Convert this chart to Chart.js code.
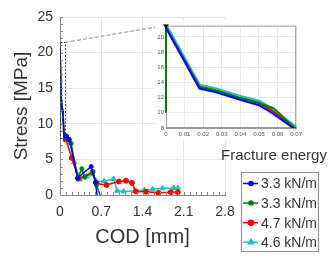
<!DOCTYPE html>
<html>
<head>
<meta charset="utf-8">
<script src="https://cdn.jsdelivr.net/npm/chart.js@4.4.1/dist/chart.umd.min.js"></script>
<style>
  html, body { margin: 0; padding: 0; background: #fff; }
  #wrap { position: relative; width: 332px; height: 257px; overflow: hidden; }
  #mainChart { position: absolute; left: 0; top: 0; }
  #insetChart { position: absolute; left: 155px; top: 20px; background: #fff; }
</style>
</head>
<body>
<div id="wrap">
  <canvas id="mainChart" width="332" height="257"></canvas>
  <canvas id="insetChart" width="150" height="120"></canvas>
</div>
<script>
// series data: COD [mm] vs stress [MPa]
const seriesLabels = ["3.3 kN/m", "3.3 kN/m", "4.7 kN/m", "4.6 kN/m"];

const blueX = [0, 0.018, 0.027, 0.039, 0.05, 0.057, 0.069, 0.11, 0.16, 0.3, 0.53, 0.6, 0.63];
const blueY = [21.2, 13.2, 12.7, 11.8, 11.0, 10.0, 7.9, 8.3, 7.8, 2.4, 4.0, 1.8, 0];

const greenX = [0, 0, 0.018, 0.027, 0.039, 0.05, 0.058, 0.069, 0.19, 0.3, 0.37, 0.42, 0.56, 0.62, 0.68];
const greenY = [10.0, 21.2, 13.4, 12.9, 12.0, 11.3, 10.6, 8.0, 7.25, 2.3, 3.7, 2.5, 3.3, 1.4, 0];

const redX = [0, 0.018, 0.027, 0.039, 0.05, 0.057, 0.069, 0.1, 0.2, 0.31, 0.55, 0.62, 0.79, 1.0, 1.12, 1.22, 1.29, 1.46, 1.67, 1.88, 2.0, 2.01];
const redY = [21.3, 13.4, 12.9, 12.0, 11.3, 10.3, 8.0, 7.8, 5.2, 2.3, 3.2, 1.6, 1.4, 1.9, 2.0, 1.7, 0.5, 0.45, 0.3, 0.4, 0.4, 0];

const cyanX = [0, 0.018, 0.027, 0.039, 0.05, 0.057, 0.069, 0.1, 0.17, 0.24, 0.34, 0.45, 0.55, 0.62, 0.75, 0.91, 0.97, 1.08, 1.26, 1.43, 1.57, 1.74, 1.93, 2.0, 2.01];
const cyanY = [21.5, 13.6, 13.1, 12.2, 11.5, 10.5, 8.2, 7.7, 7.35, 4.6, 2.2, 2.6, 2.9, 1.9, 1.95, 2.25, 0.6, 0.5, 0.56, 0.7, 0.8, 0.94, 1.0, 1.0, 0];

const mainXTicks = [0, 0.7, 1.4, 2.1, 2.8];
const mainYTicks = [0, 5, 10, 15, 20, 25];
const insetXTicks = [0, 0.01, 0.02, 0.03, 0.04, 0.05, 0.06, 0.07];
const insetYTicks = [8, 10, 12, 14, 16, 18, 20];
const zoomX = [0, 0.07];
const zoomY = [8, 21.5];

const FONT = '"Liberation Sans", Arial, sans-serif';
const TEXT = "#333";
Chart.defaults.font.family = FONT;

function pts(xs, ys) {
  return xs.map((x, i) => ({ x: x, y: ys[i] }));
}

const colors = ["#0000ff", "#008000", "#ff0000", "#1fbfbf"];
const shapes = ["circle", "circle", "circle", "triangle"];
const radii = [2, 2, 2.5, 3];
const seriesData = [pts(blueX, blueY), pts(greenX, greenY), pts(redX, redY), pts(cyanX, cyanY)];

function makeDatasets(inset) {
  return seriesData.map((d, i) => ({
    label: seriesLabels[i],
    data: d,
    showLine: true,
    borderColor: colors[i],
    backgroundColor: colors[i],
    borderWidth: inset ? (i == 3 ? 3.5 : 2) : 1.5,
    pointStyle: shapes[i],
    pointRadius: inset ? 0 : function (c) {
      const p = c.raw;
      return p && p.x >= 0.075 && p.y > 0.05 ? radii[i] : 0;
    },
    pointBorderWidth: 1,
    clip: inset ? { left: 3, top: 3, right: 0, bottom: 0 } : undefined,
  }));
}

function fixTicks(list) {
  return function (s) {
    s.ticks = list.map(v => ({ value: v }));
  };
}

// ---- inset ----
const insetFrame = {
  id: "insetFrame",
  beforeDatasetsDraw(chart) {
    const a = chart.chartArea;
    const ctx = chart.ctx;
    ctx.save();
    ctx.strokeStyle = "#9a9a9a";
    ctx.lineWidth = 1;
    ctx.strokeRect(a.left + 0.5, a.top + 0.5, a.right - a.left - 1, a.bottom - a.top - 1);
    ctx.restore();
  },
  afterDraw(chart) {
    const a = chart.chartArea;
    const ctx = chart.ctx;
    ctx.save();
    ctx.fillStyle = "#000";
    ctx.beginPath();
    ctx.moveTo(a.left - 3, a.top - 1);
    ctx.lineTo(a.left + 3, a.top - 1);
    ctx.lineTo(a.left, a.top + 3);
    ctx.closePath();
    ctx.fill();
    ctx.restore();
  },
};

const insetChart = new Chart(document.getElementById("insetChart"), {
  type: "scatter",
  data: { datasets: makeDatasets(true) },
  options: {
    responsive: false,
    animation: false,
    layout: { padding: { left: 0, top: 5, right: 7, bottom: 0 } },
    plugins: { legend: { display: false }, tooltip: { enabled: false } },
    scales: {
      x: {
        type: "linear", min: 0, max: 0.07,
        afterBuildTicks: fixTicks(insetXTicks),
        afterFit: s => { s.height = 12; },
        grid: { color: "#e8e8e8", drawTicks: false },
        border: { color: "#9a9a9a" },
        ticks: { font: { size: 6 }, color: "#555", padding: 3, maxRotation: 0,
          callback: v => (v == 0 ? "0" : v.toFixed(2)) },
      },
      y: {
        type: "linear", min: 8, max: 21.5,
        afterBuildTicks: fixTicks(insetYTicks),
        afterFit: s => { s.width = 11; },
        grid: { color: "#e8e8e8", drawTicks: false },
        border: { color: "#9a9a9a" },
        ticks: { font: { size: 6 }, color: "#555", padding: 2 },
      },
    },
  },
  plugins: [insetFrame],
});

// ---- main ----
const mainExtras = {
  id: "mainExtras",
  afterDraw(chart) {
    const ctx = chart.ctx;
    const xs = chart.scales.x, ys = chart.scales.y;
    const a = chart.chartArea;
    ctx.save();

    // minor ticks
    ctx.strokeStyle = "#8a8a8a";
    ctx.lineWidth = 1;
    ctx.beginPath();
    for (let i = 1; i <= 28; i++) {
      const px = Math.round(xs.getPixelForValue(i / 10)) + 0.5;
      ctx.moveTo(px, a.bottom);
      ctx.lineTo(px, a.bottom - 3);
    }
    for (let i = 1; i <= 25; i++) {
      const py = Math.round(ys.getPixelForValue(i)) + 0.5;
      ctx.moveTo(a.left, py);
      ctx.lineTo(a.left + 3, py);
    }
    ctx.stroke();

    // zoom box
    const bx0 = xs.getPixelForValue(zoomX[0]), bx1 = xs.getPixelForValue(zoomX[1]);
    const by0 = ys.getPixelForValue(zoomY[1]), by1 = ys.getPixelForValue(zoomY[0]);
    ctx.setLineDash([2, 1.5]);
    ctx.strokeStyle = "#444";
    ctx.strokeRect(Math.round(bx0) + 0.5, Math.round(by0) + 0.5, Math.round(bx1 - bx0) + 1, Math.round(by1 - by0));

    // connector to inset
    const ia = insetChart.chartArea;
    const cv = document.getElementById("insetChart");
    ctx.setLineDash([4, 2]);
    ctx.strokeStyle = "#8a8a8a";
    ctx.beginPath();
    ctx.moveTo(bx1 + 1, by0 + 0.5);
    ctx.lineTo(cv.offsetLeft + ia.left - 2, cv.offsetTop + ia.top);
    ctx.stroke();
    ctx.setLineDash([]);

    // legend
    const lx = 241, ly = 172, lw = 77, lh = 79;
    ctx.fillStyle = TEXT;
    ctx.font = "15px " + FONT;
    ctx.textAlign = "center";
    ctx.textBaseline = "middle";
    ctx.fillText("Fracture energy", 274, 156);

    ctx.fillStyle = "#fff";
    ctx.fillRect(lx, ly, lw, lh);
    ctx.strokeStyle = "#8c8c8c";
    ctx.strokeRect(lx + 0.5, ly + 0.5, lw, lh);
    ctx.font = "14px " + FONT;
    ctx.textAlign = "left";
    chart.data.datasets.forEach((ds, i) => {
      const y = ly + 11.5 + i * 19.6;
      ctx.strokeStyle = colors[i];
      ctx.lineWidth = 1.5;
      ctx.beginPath();
      ctx.moveTo(lx + 2, y);
      ctx.lineTo(lx + 17, y);
      ctx.stroke();
      ctx.fillStyle = colors[i];
      Chart.helpers.drawPoint(ctx, { pointStyle: shapes[i], radius: radii[i], rotation: 0, borderWidth: 1 }, lx + 10, y);
      ctx.fillStyle = TEXT;
      ctx.fillText(ds.label, lx + 20, y + 1);
    });
    ctx.restore();
  },
};

new Chart(document.getElementById("mainChart"), {
  type: "scatter",
  data: { datasets: makeDatasets(false) },
  options: {
    responsive: false,
    animation: false,
    layout: { padding: { left: 0, top: 17, right: 107, bottom: 0 } },
    plugins: { legend: { display: false }, tooltip: { enabled: false } },
    scales: {
      x: {
        type: "linear", min: 0, max: 2.8,
        afterBuildTicks: fixTicks(mainXTicks),
        afterFit: s => { s.height = 62; },
        grid: { color: "#e6e6e6", drawTicks: false },
        border: { color: "#8a8a8a" },
        ticks: { font: { size: 14 }, color: TEXT, padding: 9, maxRotation: 0,
          callback: v => (v == 0 ? "0" : v.toFixed(1)) },
        title: { display: true, text: "COD [mm]", font: { size: 20 }, color: TEXT,
          padding: { top: 0, bottom: 8 } },
      },
      y: {
        type: "linear", min: 0, max: 25,
        afterBuildTicks: fixTicks(mainYTicks),
        afterFit: s => { s.width = 60; },
        grid: { color: "#e6e6e6", drawTicks: false },
        border: { color: "#8a8a8a" },
        ticks: { font: { size: 14 }, color: TEXT, padding: 7 },
        title: { display: true, text: "Stress [MPa]", font: { size: 19 }, color: TEXT,
          padding: { top: 10, bottom: 0 } },
      },
    },
  },
  plugins: [mainExtras],
});
</script>
</body>
</html>
